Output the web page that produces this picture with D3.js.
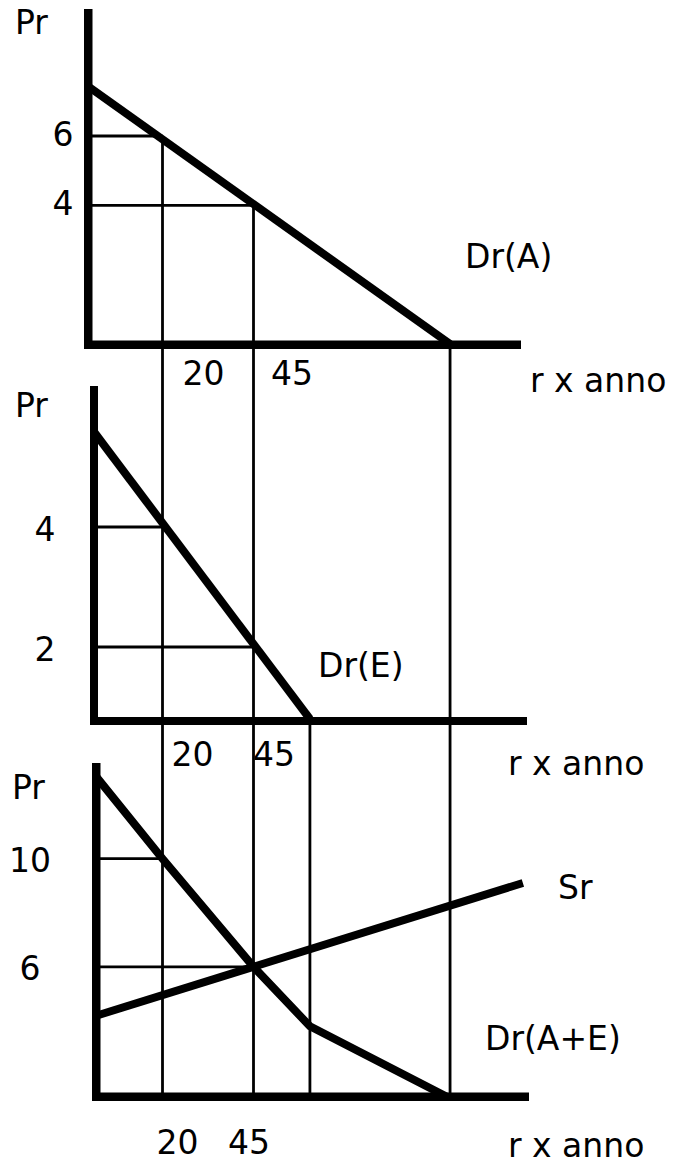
<!DOCTYPE html>
<html>
<head>
<meta charset="utf-8">
<script src="https://cdn.jsdelivr.net/npm/d3@7"></script>
<style>
  body { margin: 0; background: #fff; }
  text { font-family: "DejaVu Sans", sans-serif; font-size: 33px; fill: #000; }
</style>
</head>
<body>
<div id="general"></div>
<script>
// quantità (r x anno) e prezzi
const qTicks = [20, 45];
const qEndA = 99;     // dove Dr(A) tocca l'asse
const qEndE = 60.5;   // dove Dr(E) tocca l'asse

const pTicksA = [6, 4];
const pTicksE = [4, 2];
const pTicksAE = [10, 6];

const demandA = [[0, 7.4], [99, 0]];
const demandE = [[1, 5.6], [60.5, 0.8]];
const demandAE = [[2, 13], [20, 10], [45, 6], [60.5, 3.8], [98, 1.2]];
const supply = [[2, 4.2], [119, 9.1]];

const w = 673, h = 1164;

// asse delle quantità comune ai tre grafici
const x = d3.scaleLinear().domain([20, 45]).range([162.5, 253.5]);

const panels = [
  { ticks: pTicksA, curves: [demandA], y: d3.scaleLinear().domain([0, 6]).range([344, 136]),
    box: { l: 84, t: 9, r: 521, b: 349, th: 8.5 }, yLabX: 63, yLabDy: 10,
    xLabDx: [41, 38.5], xLabY: 385, prY: 34, prX: 15, annoX: 530, annoY: 392,
    name: "Dr(A)", nameX: 465, nameY: 268 },
  { ticks: pTicksE, curves: [demandE], y: d3.scaleLinear().domain([2, 4]).range([647, 527]),
    box: { l: 90, t: 386, r: 527, b: 725, th: 8 }, yLabX: 45, yLabDy: 14,
    xLabDx: [30, 20.5], xLabY: 766, prY: 417, prX: 15, annoX: 508, annoY: 775,
    name: "Dr(E)", nameX: 318, nameY: 677 },
  { ticks: pTicksAE, curves: [demandAE, supply], y: d3.scaleLinear().domain([6, 10]).range([966.8, 858.7]),
    box: { l: 92, t: 763, r: 529, b: 1101, th: 8.5 }, yLabX: 30, yLabDy: 13,
    xLabDx: [15, -4.5], xLabY: 1154, prY: 799, prX: 12, annoX: 508, annoY: 1157,
    name: "Dr(A+E)", nameX: 485, nameY: 1050 }
];

const svg = d3.select("#general").append("svg")
  .attr("width", w).attr("height", h)
  .attr("viewBox", `0 0 ${w} ${h}`);

svg.append("rect").attr("width", w).attr("height", h).attr("fill", "#fff");

const gGrid = svg.append("g").attr("stroke", "#000").attr("stroke-width", 2.8);
const gCurves = svg.append("g");
const gAxes = svg.append("g");
const gText = svg.append("g");

const axisBottom = panels[2].box.b - panels[2].box.th / 2;

// linee verticali che attraversano i tre grafici
const verticals = [
  { q: qTicks[0], from: panels[0].y(pTicksA[0]) },
  { q: qTicks[1], from: panels[0].y(pTicksA[1]) },
  { q: qEndA, from: panels[0].box.b - 4 },
  { q: qEndE, from: panels[1].box.b - 4 }
];

gGrid.selectAll("line.v")
  .data(verticals)
  .join("line")
    .attr("class", "v")
    .attr("x1", d => x(d.q)).attr("x2", d => x(d.q))
    .attr("y1", d => d.from).attr("y2", axisBottom);

const line = d3.line();

panels.forEach(p => {
  // orizzontali dai prezzi alle quantità
  gGrid.selectAll(null)
    .data(p.ticks)
    .join("line")
      .attr("x1", p.box.l + p.box.th / 2)
      .attr("x2", (d, i) => x(qTicks[i]))
      .attr("y1", d => p.y(d)).attr("y2", d => p.y(d));

  gCurves.selectAll(null)
    .data(p.curves)
    .join("path")
      .attr("fill", "none")
      .attr("stroke", "#000")
      .attr("stroke-width", 8)
      .attr("stroke-linejoin", "round")
      .attr("d", d => line.x(v => x(v[0])).y(v => p.y(v[1]))(d));

  // assi spessi
  gAxes.append("rect")
    .attr("x", p.box.l).attr("y", p.box.t)
    .attr("width", p.box.th).attr("height", p.box.b - p.box.t);
  gAxes.append("rect")
    .attr("x", p.box.l).attr("y", p.box.b - p.box.th)
    .attr("width", p.box.r - p.box.l).attr("height", p.box.th);

  gText.selectAll(null)
    .data(p.ticks)
    .join("text")
      .attr("x", p.yLabX)
      .attr("y", d => p.y(d) + p.yLabDy)
      .attr("text-anchor", "middle")
      .text(d => d);

  gText.selectAll(null)
    .data(qTicks)
    .join("text")
      .attr("x", (d, i) => x(d) + p.xLabDx[i])
      .attr("y", p.xLabY)
      .attr("text-anchor", "middle")
      .text(d => d);

  gText.append("text").attr("x", p.prX).attr("y", p.prY).text("Pr");
  gText.append("text").attr("x", p.annoX).attr("y", p.annoY).text("r x anno");
  gText.append("text").attr("x", p.nameX).attr("y", p.nameY).text(p.name);
});

gText.append("text").attr("x", 558).attr("y", 899).text("Sr");
</script>
</body>
</html>
